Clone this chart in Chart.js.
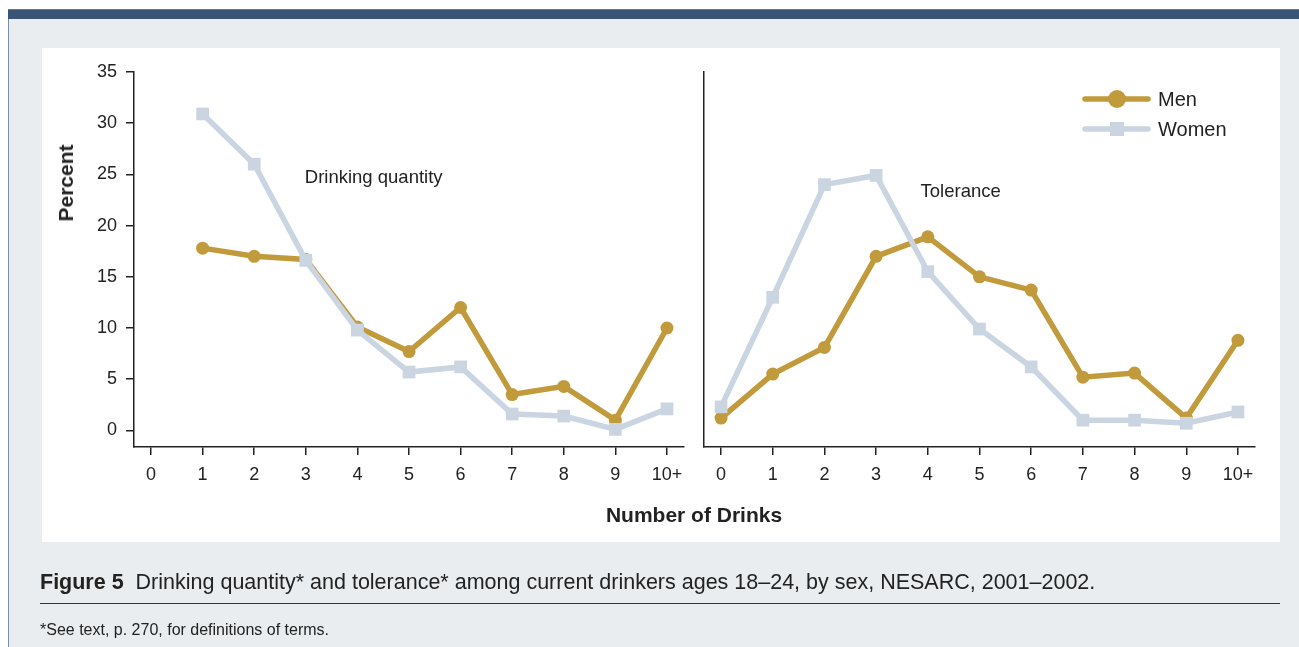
<!DOCTYPE html>
<html>
<head>
<meta charset="utf-8">
<script src="https://cdn.jsdelivr.net/npm/chart.js@4.4.1/dist/chart.umd.min.js"></script>
<style>
  html, body { margin: 0; padding: 0; }
  body { width: 1299px; height: 647px; position: relative; overflow: hidden; background: #fff;
         font-family: "Liberation Sans", Arial, Helvetica, sans-serif; color: #222; }
  #frame { position: absolute; left: 8px; top: 9px; right: 0; bottom: 0; background: #e9edf0;
           border-left: 1.5px solid #7d8ea3; }
  #topbar { position: absolute; left: 8px; top: 9px; right: 0; height: 10px; background: #3a5475;
            border-top: 1px solid #5d7796; box-sizing: border-box; }
  #panel { position: absolute; left: 42px; top: 48px; width: 1238px; height: 494px; background: #fff; }
  .cv { position: absolute; left: 0; top: 0; width: 1299px; height: 647px; }
  #ytitle { position: absolute; left: 66px; top: 183px; transform: translate(-50%, -50%) rotate(-90deg);
            font-weight: bold; font-size: 21px; white-space: nowrap; }
  #xtitle { position: absolute; left: 694px; top: 515px; transform: translate(-50%, -50%);
            font-weight: bold; font-size: 21px; white-space: nowrap; }
  #caption { position: absolute; left: 40px; top: 570px; font-size: 21.5px; line-height: 25px; white-space: nowrap; }
  #rule { position: absolute; left: 40px; top: 603px; width: 1240px; height: 0; border-top: 1.5px solid #333; }
  #foot { position: absolute; left: 40px; top: 621px; font-size: 16px; line-height: 18px; white-space: nowrap; }
</style>
</head>
<body>
<div id="frame"></div>
<div id="topbar"></div>
<div id="panel"></div>
<div class="cv"><canvas id="leftChart"></canvas></div>
<div class="cv"><canvas id="rightChart"></canvas></div>
<div id="ytitle">Percent</div>
<div id="xtitle">Number of Drinks</div>
<div id="caption"><b>Figure 5</b>&nbsp; Drinking quantity* and tolerance* among current drinkers ages 18–24, by sex, NESARC, 2001–2002.</div>
<div id="rule"></div>
<div id="foot">*See text, p. 270, for definitions of terms.</div>

<script>
// ---------------- DATA ----------------
const drinkLabels = ["0", "1", "2", "3", "4", "5", "6", "7", "8", "9", "10+"];
const yTicks = [0, 5, 10, 15, 20, 25, 30, 35];

// Drinking quantity (left panel)
const quantityMen   = [null, 17.8, 17.0, 16.7, 10.1, 7.7, 12.0, 3.5, 4.3, 1.0, 10.0];
const quantityWomen = [null, 30.9, 26.0, 16.6, 9.8, 5.7, 6.2, 1.6, 1.4, 0.1, 2.1];

// Tolerance (right panel)
const toleranceMen   = [1.2, 5.5, 8.1, 17.0, 18.9, 15.0, 13.7, 5.2, 5.6, 1.2, 8.8];
const toleranceWomen = [2.3, 13.0, 24.0, 24.9, 15.5, 9.9, 6.2, 1.0, 1.0, 0.7, 1.8];

const seriesNames = ["Men", "Women"];

// ---------------- STYLE ----------------
const GOLD = "#c19a3b";
const BLUE = "#cad5e1";
const INK = "#222";
const FONT = "'Liberation Sans', Arial, Helvetica, sans-serif";

const W = 1299, H = 647;
const Y_W = 60, X_H = 50;
const AREA_TOP = 72, AREA_BOTTOM = 447;

function toPoints(arr) {
    return arr.map((v, i) => ({ x: i, y: v }));
}

function makeDatasets(men, women) {
    return [
        {
            label: seriesNames[1],
            data: toPoints(women),
            borderColor: BLUE,
            backgroundColor: BLUE,
            borderWidth: 5.5,
            pointStyle: "rect",
            pointRadius: 9,
            pointBorderWidth: 0,
            order: 1
        },
        {
            label: seriesNames[0],
            data: toPoints(men),
            borderColor: GOLD,
            backgroundColor: GOLD,
            borderWidth: 5.5,
            pointStyle: "circle",
            pointRadius: 6.5,
            pointBorderWidth: 0,
            order: 2
        }
    ];
}

// text label placed at data coordinates
const panelText = {
    id: "panelText",
    afterDatasetsDraw(chart, args, opts) {
        const ctx = chart.ctx;
        ctx.save();
        ctx.font = "18.5px " + FONT;
        ctx.fillStyle = INK;
        ctx.textBaseline = "middle";
        ctx.textAlign = "left";
        ctx.fillText(opts.text, chart.scales.x.getPixelForValue(opts.x), chart.scales.y.getPixelForValue(opts.y));
        ctx.restore();
    }
};

// legend: line + marker + name
const lineLegend = {
    id: "lineLegend",
    afterDraw(chart, args, opts) {
        if (!opts.show) return;
        const ctx = chart.ctx;
        const items = [chart.data.datasets[1], chart.data.datasets[0]];
        ctx.save();
        items.forEach((ds, k) => {
            const y = 99 + k * 30;
            ctx.strokeStyle = ds.borderColor;
            ctx.lineWidth = 5.5;
            ctx.lineCap = "round";
            ctx.beginPath();
            ctx.moveTo(1085, y);
            ctx.lineTo(1148, y);
            ctx.stroke();
            ctx.fillStyle = ds.backgroundColor;
            if (ds.pointStyle === "circle") {
                ctx.beginPath();
                ctx.arc(1117, y, 9, 0, Math.PI * 2);
                ctx.fill();
            } else {
                ctx.fillRect(1110, y - 7, 14, 14);
            }
            ctx.fillStyle = INK;
            ctx.font = "20px " + FONT;
            ctx.textBaseline = "middle";
            ctx.fillText(ds.label, 1158, y + 1);
        });
        ctx.restore();
    }
};

function makeChart(id, men, women, area, showYLabels, text, showLegend) {
    return new Chart(document.getElementById(id), {
        type: "line",
        data: { datasets: makeDatasets(men, women) },
        plugins: [panelText, lineLegend],
        options: {
            responsive: false,
            animation: false,
            events: [],
            spanGaps: false,
            layout: {
                padding: {
                    left: area.left - (showYLabels ? Y_W : 0),
                    right: W - area.right,
                    top: AREA_TOP,
                    bottom: H - AREA_BOTTOM - X_H
                }
            },
            plugins: {
                legend: { display: false },
                tooltip: { enabled: false },
                panelText: text,
                lineLegend: { show: showLegend }
            },
            scales: {
                x: {
                    type: "linear",
                    min: -0.33,
                    max: 10.33,
                    afterFit: s => { s.height = X_H; },
                    border: { display: true, color: INK, width: 1.5 },
                    grid: { drawOnChartArea: false, drawTicks: true, tickLength: 8, lineWidth: 1.5, color: INK },
                    ticks: {
                        stepSize: 1,
                        includeBounds: false,
                        autoSkip: false,
                        maxRotation: 0,
                        padding: 9,
                        color: INK,
                        font: { family: FONT, size: 18 },
                        callback: v => drinkLabels[v]
                    }
                },
                y: {
                    type: "linear",
                    min: -1.62,
                    max: 35,
                    afterFit: s => { s.width = showYLabels ? Y_W : 0; },
                    afterBuildTicks: s => { s.ticks = yTicks.map(v => ({ value: v })); },
                    border: { display: true, color: INK, width: 1.5 },
                    grid: { drawOnChartArea: false, drawTicks: showYLabels, tickLength: 8, lineWidth: 1.5, color: INK },
                    ticks: {
                        display: showYLabels,
                        padding: 9,
                        color: INK,
                        font: { family: FONT, size: 18 }
                    }
                }
            }
        }
    });
}

const leftC = document.getElementById("leftChart");
const rightC = document.getElementById("rightChart");
[leftC, rightC].forEach(c => { c.width = W; c.height = H; c.style.width = W + "px"; c.style.height = H + "px"; });

makeChart("leftChart", quantityMen, quantityWomen, { left: 134, right: 684 }, true,
    { text: "Drinking quantity", x: 2.98, y: 24.7 }, false);
makeChart("rightChart", toleranceMen, toleranceWomen, { left: 704, right: 1255 }, false,
    { text: "Tolerance", x: 3.86, y: 23.3 }, true);
</script>
</body>
</html>
